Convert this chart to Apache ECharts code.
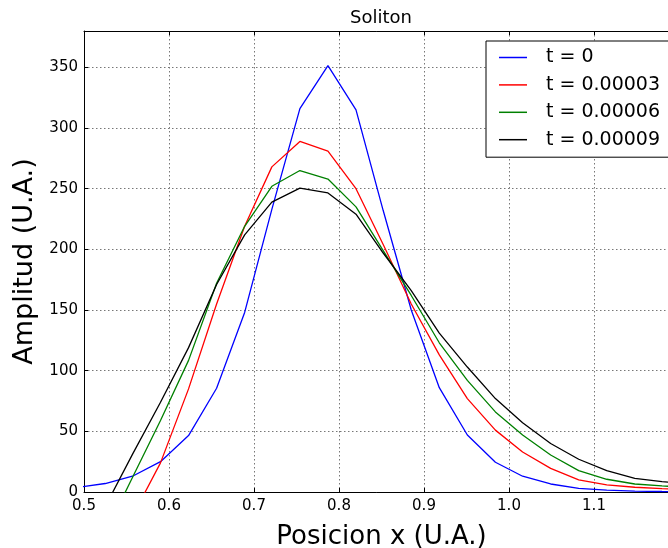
<!DOCTYPE html>
<html>
<head>
<meta charset="utf-8">
<script src="https://cdn.jsdelivr.net/npm/echarts@6/dist/echarts.min.js"></script>
<style>
  html, body { margin: 0; padding: 0; background: #fff; }
  #chart { width: 668px; height: 548px; }
</style>
</head>
<body>
<div id="chart"></div>
<script>
// posiciones x de la malla
const posX = [0.492, 0.525, 0.557, 0.590, 0.623, 0.656, 0.689, 0.721, 0.754, 0.787, 0.820, 0.852,
  0.885, 0.918, 0.951, 0.984, 1.016, 1.049, 1.082, 1.115, 1.148, 1.180, 1.213];

const t0 = [3.7, 7, 13, 25, 46.5, 85.5, 148, 233, 316, 351.5, 315, 232,
  150, 86, 47, 24.5, 13, 6.6, 3, 1.6, 0.8, 0.4, 0.2];
const t1 = [-85, -55, -20, 24, 85, 155, 219, 268, 289, 281, 250, 204,
  155, 113, 77, 51, 33, 19.5, 10, 5.8, 3.9, 2.7, 1.8];
const t2 = [-75, -34, 12, 59, 108.5, 172, 219, 252, 265, 258, 235, 199,
  162, 123, 92, 66, 47, 30.5, 17.6, 10.5, 6.6, 5, 3.8];
const t3 = [-50, -12, 31, 74, 119, 171, 212, 239, 250.5, 246.5, 229, 197,
  166, 131, 103, 77, 57, 40, 27, 17.6, 11.3, 8.5, 6.5];

const seriesNames = ['t = 0', 't = 0.00003', 't = 0.00006', 't = 0.00009'];
const seriesColors = ['#0000ff', '#ff0000', '#008000', '#000000'];
const seriesData = [t0, t1, t2, t3];

const FONT = 'DejaVu Sans';

const chart = echarts.init(document.getElementById('chart'));

const gridLine = { show: true, lineStyle: { color: '#777', width: 1, type: [1.5, 2.5] } };

chart.setOption({
  animation: false,
  backgroundColor: '#fff',
  title: {
    text: 'Soliton',
    left: 350,
    top: 9,
    padding: 0,
    textStyle: { fontFamily: FONT, fontSize: 18, fontWeight: 'normal', color: '#000' }
  },
  legend: {
    orient: 'vertical',
    left: 486,
    top: 41,
    padding: [7, 20, 8, 13],
    borderColor: '#000',
    borderWidth: 1,
    backgroundColor: '#fff',
    itemWidth: 28,
    itemHeight: 1.5,
    itemGap: 8.4,
    icon: 'rect',
    textStyle: { fontFamily: FONT, fontSize: 19, color: '#000', padding: [0, 0, 0, 14] },
    data: seriesNames
  },
  grid: { left: 84, top: 31, right: -11, bottom: 56, outerBoundsMode: 'none' },
  xAxis: [{
    type: 'value',
    min: 0.5,
    max: 1.2,
    interval: 0.1,
    name: 'Posicion x (U.A.)',
    nameLocation: 'middle',
    nameGap: 32,
    nameTextStyle: { fontFamily: FONT, fontSize: 26, color: '#000' },
    axisLine: { show: true, lineStyle: { color: '#000', width: 1 } },
    axisTick: { show: true, inside: true, length: 4, lineStyle: { color: '#000' } },
    axisLabel: {
      fontFamily: FONT, fontSize: 15, color: '#000', margin: 7,
      formatter: v => v.toFixed(1)
    },
    splitLine: gridLine
  }, {
    type: 'value',
    position: 'top',
    min: 0.5,
    max: 1.2,
    interval: 0.1,
    axisLine: { show: true, lineStyle: { color: '#000', width: 1 } },
    axisTick: { show: true, inside: true, length: 4, lineStyle: { color: '#000' } },
    axisLabel: { show: false },
    splitLine: { show: false }
  }],
  yAxis: [{
    type: 'value',
    min: 0,
    max: 380,
    interval: 50,
    name: 'Amplitud (U.A.)',
    nameLocation: 'middle',
    nameGap: 46,
    nameTextStyle: { fontFamily: FONT, fontSize: 27, color: '#000' },
    axisLine: { show: true, lineStyle: { color: '#000', width: 1 } },
    axisTick: { show: true, inside: true, length: 4, lineStyle: { color: '#000' } },
    axisLabel: { fontFamily: FONT, fontSize: 15, color: '#000', margin: 6, showMaxLabel: false },
    splitLine: gridLine
  }],
  series: seriesData.map((vals, i) => ({
    name: seriesNames[i],
    type: 'line',
    data: posX.map((x, j) => [x, vals[j]]),
    symbol: 'none',
    clip: true,
    color: seriesColors[i],
    lineStyle: { color: seriesColors[i], width: 1.3 }
  }))
});
</script>
</body>
</html>
